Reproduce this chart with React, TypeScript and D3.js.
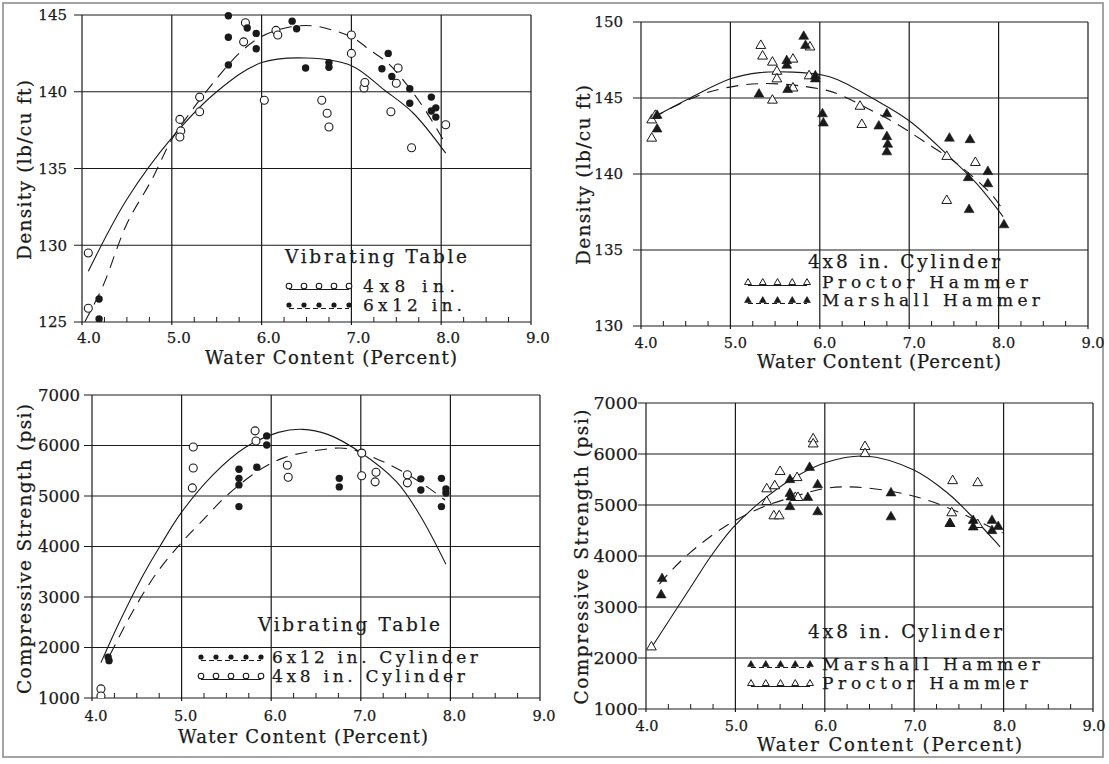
import React from 'react';
import * as d3 from 'd3';

type Pt = [number, number];

// ---------- tick values ----------
const waterTicks = [4, 5, 6, 7, 8, 9];
const waterTickLabels = ['4.0', '5.0', '6.0', '7.0', '8.0', '9.0'];
const densityTicksVT = [125, 130, 135, 140, 145];
const densityTicksHM = [130, 135, 140, 145, 150];
const strengthTicks = [1000, 2000, 3000, 4000, 5000, 6000, 7000];

// ---------- Panel A: density, vibrating table ----------
const densVT4x8: Pt[] = [
  [4.07, 129.5], [4.07, 125.9], [5.09, 138.2], [5.1, 137.45], [5.09, 137.05], [5.31, 139.65], [5.31, 138.7],
  [5.8, 143.25], [5.82, 144.5], [6.03, 139.45], [6.16, 144.0], [6.18, 143.7], [6.67, 139.45], [6.73, 138.6],
  [6.75, 137.7], [7.0, 143.7], [7.0, 142.5], [7.14, 140.25], [7.15, 140.6], [7.44, 138.7], [7.5, 140.55],
  [7.52, 141.55], [7.67, 136.35], [8.05, 137.85],
];
const densVT6x12: Pt[] = [
  [4.19, 126.5], [4.19, 125.2], [5.63, 144.95], [5.63, 143.55], [5.63, 141.75], [5.84, 144.15], [5.94, 143.8],
  [5.94, 142.8], [6.34, 144.6], [6.39, 144.1], [6.49, 141.55], [6.75, 141.9], [6.75, 141.6], [7.34, 141.5],
  [7.41, 142.5], [7.45, 141.0], [7.65, 140.2], [7.65, 139.25], [7.89, 139.65], [7.89, 138.75], [7.94, 138.95],
  [7.94, 138.35],
];
const densVT4x8Fit: Pt[] = [
  [4.07, 128.3], [4.5, 133.0], [5.0, 137.0], [5.5, 140.0], [6.0, 141.9], [6.5, 142.2], [7.0, 141.7],
  [7.37, 140.1], [7.69, 138.6], [8.05, 136.0],
];
const densVT6x12Fit: Pt[] = [
  [4.03, 125.0], [4.23, 127.3], [4.5, 131.4], [4.78, 134.3], [5.0, 136.9], [5.2, 138.6], [5.45, 140.5],
  [5.75, 142.5], [6.0, 143.6], [6.3, 144.2], [6.56, 144.3], [6.8, 144.0], [7.02, 143.5], [7.21, 142.7],
  [7.4, 141.9], [7.57, 140.8], [7.8, 139.0], [8.02, 136.9],
];

// ---------- Panel B: density, hammers ----------
const densHMProctor: Pt[] = [
  [4.12, 142.4], [4.12, 143.6], [4.16, 143.9], [5.34, 148.5], [5.36, 147.8], [5.47, 147.4], [5.52, 146.8],
  [5.52, 146.3], [5.47, 144.9], [5.7, 147.6], [5.7, 145.7], [5.89, 148.4], [5.88, 146.5], [6.45, 144.5],
  [6.47, 143.3], [7.42, 141.2], [7.42, 138.3], [7.74, 140.8],
];
const densHMMarshall: Pt[] = [
  [4.18, 143.9], [4.18, 143.0], [5.32, 145.3], [5.63, 147.5], [5.63, 147.2], [5.64, 145.6], [5.82, 149.1],
  [5.84, 148.5], [5.95, 146.5], [5.95, 146.3], [6.03, 144.0], [6.04, 143.4], [6.66, 143.2], [6.75, 144.0],
  [6.75, 142.5], [6.76, 142.0], [6.75, 141.5], [7.45, 142.4], [7.68, 142.3], [7.66, 139.8], [7.67, 137.7],
  [7.88, 140.2], [7.88, 139.4], [8.06, 136.7],
];
const densHMProctorFit: Pt[] = [
  [4.13, 143.7], [4.55, 145.0], [5.0, 146.26], [5.33, 146.67], [5.7, 146.7], [6.04, 146.5], [6.2, 146.2],
  [6.6, 144.95], [7.0, 143.5], [7.42, 141.3], [7.75, 139.4], [8.05, 137.2],
];
const densHMMarshallFit: Pt[] = [
  [4.13, 143.7], [4.66, 145.2], [5.07, 145.8], [5.41, 145.95], [5.78, 145.8], [6.08, 145.5], [6.23, 145.2],
  [6.54, 144.3], [6.86, 143.3], [7.15, 142.2], [7.53, 140.7], [7.93, 138.6], [8.05, 137.6],
];

// ---------- Panel C: strength, vibrating table ----------
const strVT4x8: Pt[] = [
  [4.1, 1180], [4.1, 1040], [5.13, 5970], [5.13, 5555], [5.12, 5160], [5.82, 6290], [5.83, 6090], [6.18, 5610],
  [6.19, 5370], [7.01, 5850], [7.01, 5400], [7.17, 5470], [7.16, 5280], [7.52, 5420], [7.52, 5260],
];
const strVT6x12: Pt[] = [
  [4.18, 1810], [4.19, 1740], [5.64, 5530], [5.64, 5350], [5.64, 5220], [5.64, 4790], [5.84, 5570],
  [5.95, 6190], [5.95, 6010], [6.76, 5350], [6.76, 5180], [7.67, 5340], [7.67, 5120], [7.9, 5350],
  [7.95, 5140], [7.95, 5060], [7.9, 4790],
];
const strVT4x8Fit: Pt[] = [
  [4.1, 1700], [4.3, 2480], [4.57, 3430], [4.76, 4010], [5.0, 4680], [5.35, 5420], [5.71, 5960], [6.08, 6260],
  [6.35, 6320], [6.63, 6220], [6.99, 5870], [7.4, 5280], [7.66, 4620], [7.95, 3650],
];
const strVT6x12Fit: Pt[] = [
  [4.2, 1850], [4.45, 2700], [4.72, 3470], [5.0, 4080], [5.2, 4450], [5.5, 5000], [5.84, 5480], [6.13, 5750],
  [6.5, 5900], [6.85, 5940], [7.21, 5710], [7.47, 5480], [7.74, 5180], [7.94, 4920],
];

// ---------- Panel D: strength, hammers ----------
const strHMMarshall: Pt[] = [
  [4.18, 3570], [4.17, 3250], [5.61, 5510], [5.61, 5240], [5.62, 5170], [5.61, 4980], [5.83, 5750],
  [5.81, 5160], [5.92, 5410], [5.92, 4880], [6.74, 5250], [6.74, 4780], [7.4, 4650], [7.66, 4710],
  [7.66, 4580], [7.87, 4710], [7.94, 4590], [7.87, 4510],
];
const strHMProctor: Pt[] = [
  [4.06, 2230], [5.35, 5330], [5.44, 5390], [5.5, 5670], [5.35, 5080], [5.43, 4800], [5.49, 4800],
  [5.69, 5550], [5.67, 5160], [5.7, 5160], [5.87, 6310], [5.87, 6210], [6.45, 6160], [6.45, 6020],
  [7.43, 5490], [7.71, 5450], [7.42, 4860], [7.4, 4650], [7.71, 4630],
];
const strHMProctorFit: Pt[] = [
  [4.06, 2200], [4.53, 3470], [4.72, 3980], [4.97, 4550], [5.28, 5060], [5.65, 5530], [6.02, 5840],
  [6.45, 5960], [6.99, 5690], [7.37, 5240], [7.66, 4750], [7.92, 4260], [7.96, 4180],
];
const strHMMarshallFit: Pt[] = [
  [4.15, 3450], [4.27, 3690], [4.49, 4060], [4.86, 4550], [5.28, 4940], [5.65, 5160], [6.02, 5330],
  [6.36, 5350], [6.8, 5250], [7.14, 5100], [7.51, 4850], [7.85, 4570], [7.99, 4450],
];

type Marker = 'openCircle' | 'filledCircle' | 'openTri' | 'filledTri';

interface LegendRow { marker: Marker; dashed: boolean; label: string; y: number; mx0: number; mx1: number; lx: number; lw: number }
interface PanelCfg {
  x0: number; x1: number; y0: number; y1: number;
  yDomain: [number, number]; yTicks: number[]; yFont: number; yLabelGap: number;
  xLabelY: number; xFont: number; xLabelShift: number;
  xTitle: { x: number; y: number; w: number };
  yTitle: { text: string; x: number; y: number; w: number };
  series: { data: Pt[]; marker: Marker }[];
  fits: { data: Pt[]; dashed: boolean }[];
  legendTitle: { text: string; x: number; y: number; w: number };
  legendRows: LegendRow[];
}

const FONT = '"DejaVu Serif", "Liberation Serif", serif';
const INK = '#1a1a1a';
const TXT = { fill: INK, stroke: INK, strokeWidth: 0.25 };

function MarkerShape({ type, x, y, s = 1 }: { type: Marker; x: number; y: number; s?: number }) {
  if (type === 'openCircle') return <circle cx={x} cy={y} r={4 * s} fill="white" stroke={INK} strokeWidth={1.1} />;
  if (type === 'filledCircle') return <circle cx={x} cy={y} r={3.7 * s} fill={INK} />;
  const p = d3.symbol().type(d3.symbolTriangle).size(42 * s * s)()!;
  const filled = type === 'filledTri';
  return <path d={p} transform={`translate(${x},${y + 0.8 * s})`} fill={filled ? INK : 'white'} stroke={INK} strokeWidth={filled ? 0.6 : 1} />;
}

function Panel({ c }: { c: PanelCfg }) {
  const x = d3.scaleLinear().domain([4, 9]).range([c.x0, c.x1]);
  const y = d3.scaleLinear().domain(c.yDomain).range([c.y1, c.y0]);
  const line = d3.line<Pt>().x(d => x(d[0])).y(d => y(d[1])).curve(d3.curveCatmullRom.alpha(0.5));
  const minor = d3.range(4, 9.001, 0.25).filter(v => Math.abs(v - Math.round(v)) > 0.01);
  const clipId = `clip${c.x0}${c.y0}`;
  return (
    <g>
      <defs>
        <clipPath id={clipId}>
          <rect x={c.x0} y={c.y0 - 6} width={c.x1 - c.x0 + 6} height={c.y1 - c.y0 + 6} />
        </clipPath>
      </defs>
      {/* grid */}
      {waterTicks.map(t => (
        <line key={'vx' + t} x1={x(t)} x2={x(t)} y1={c.y0} y2={c.y1 + 3} stroke={INK} strokeWidth={1.2} />
      ))}
      {c.yTicks.map(t => (
        <line key={'hy' + t} x1={c.x0 - 8} x2={c.x1} y1={y(t)} y2={y(t)} stroke={INK} strokeWidth={1.2} />
      ))}
      {minor.map(t => (
        <line key={'mx' + t} x1={x(t)} x2={x(t)} y1={c.y1} y2={c.y1 - 5} stroke={INK} strokeWidth={1} />
      ))}
      {/* tick labels */}
      {c.yTicks.map(t => (
        <text key={'yl' + t} x={c.x0 - c.yLabelGap} y={y(t)} dy="0.35em" textAnchor="end"
          fontFamily={FONT} fontSize={c.yFont} {...TXT}>{t}</text>
      ))}
      {waterTicks.map((t, i) => (
        <text key={'xl' + t} x={x(t) + c.xLabelShift} y={c.xLabelY} dy="0.35em" textAnchor="middle"
          fontFamily={FONT} fontSize={c.xFont} {...TXT}>{waterTickLabels[i]}</text>
      ))}
      {/* titles */}
      <text x={c.xTitle.x} y={c.xTitle.y} dy="0.35em" fontFamily={FONT} fontSize={18} {...TXT}
        textLength={c.xTitle.w} lengthAdjust="spacing">Water Content (Percent)</text>
      <text transform={`translate(${c.yTitle.x},${c.yTitle.y}) rotate(-90)`} textAnchor="middle" dy="0.35em"
        fontFamily={FONT} fontSize={18.5} {...TXT} textLength={c.yTitle.w} lengthAdjust="spacing">{c.yTitle.text}</text>
      {/* fits */}
      <g clipPath={`url(#${clipId})`}>
        {c.fits.map((f, i) => (
          <path key={'f' + i} d={line(f.data)!} fill="none" stroke={INK} strokeWidth={1.1}
            strokeDasharray={f.dashed ? '12 8' : undefined} />
        ))}
        {c.series.map((s, i) => (
          <g key={'s' + i}>
            {s.data.map((d, j) => <MarkerShape key={j} type={s.marker} x={x(d[0])} y={y(d[1])} />)}
          </g>
        ))}
      </g>
      {/* legend */}
      <text x={c.legendTitle.x} y={c.legendTitle.y} dy="0.35em" fontFamily={FONT} fontSize={18.5} {...TXT}
        textLength={c.legendTitle.w} lengthAdjust="spacing">{c.legendTitle.text}</text>
      {c.legendRows.map((r, i) => {
        const xs = d3.range(5).map(k => r.mx0 + (k * (r.mx1 - r.mx0)) / 4);
        return (
          <g key={'lr' + i}>
            <line x1={r.mx0} x2={r.mx1} y1={r.y + 3.5} y2={r.y + 3.5} stroke={INK} strokeWidth={1}
              strokeDasharray={r.dashed ? '5 3' : undefined} />
            {xs.map((mx, k) => <MarkerShape key={k} type={r.marker} x={mx} y={r.y} s={0.7} />)}
            <text x={r.lx} y={r.y} dy="0.35em" fontFamily={FONT} fontSize={17} {...TXT}
              textLength={r.lw} lengthAdjust="spacing">{r.label}</text>
          </g>
        );
      })}
    </g>
  );
}

const panels: PanelCfg[] = [
  {
    x0: 82, x1: 531, y0: 15, y1: 322, yDomain: [125, 145], yTicks: densityTicksVT, yFont: 15, yLabelGap: 15,
    xLabelY: 338, xFont: 15, xLabelShift: 7,
    xTitle: { x: 205, y: 358, w: 252 },
    yTitle: { text: 'Density (lb/cu ft)', x: 25, y: 170, w: 180 },
    series: [{ data: densVT4x8, marker: 'openCircle' }, { data: densVT6x12, marker: 'filledCircle' }],
    fits: [{ data: densVT4x8Fit, dashed: false }, { data: densVT6x12Fit, dashed: true }],
    legendTitle: { text: 'Vibrating Table', x: 285, y: 257, w: 182 },
    legendRows: [
      { marker: 'openCircle', dashed: false, label: '4x8  in.', y: 286, mx0: 289, mx1: 349, lx: 363, lw: 92 },
      { marker: 'filledCircle', dashed: true, label: '6x12  in.', y: 305, mx0: 289, mx1: 349, lx: 363, lw: 99 },
    ],
  },
  {
    x0: 641, x1: 1088, y0: 22, y1: 326, yDomain: [130, 150], yTicks: densityTicksHM, yFont: 15, yLabelGap: 18,
    xLabelY: 343, xFont: 14.5, xLabelShift: 5,
    xTitle: { x: 757, y: 362, w: 244 },
    yTitle: { text: 'Density (lb/cu ft)', x: 584, y: 175, w: 180 },
    series: [{ data: densHMProctor, marker: 'openTri' }, { data: densHMMarshall, marker: 'filledTri' }],
    fits: [{ data: densHMProctorFit, dashed: false }, { data: densHMMarshallFit, dashed: true }],
    legendTitle: { text: '4x8  in. Cylinder', x: 808, y: 262, w: 192 },
    legendRows: [
      { marker: 'openTri', dashed: false, label: 'Proctor Hammer', y: 282, mx0: 748, mx1: 807, lx: 822, lw: 206 },
      { marker: 'filledTri', dashed: true, label: 'Marshall Hammer', y: 300, mx0: 748, mx1: 807, lx: 822, lw: 218 },
    ],
  },
  {
    x0: 92, x1: 540, y0: 395, y1: 698, yDomain: [1000, 7000], yTicks: strengthTicks, yFont: 16.5, yLabelGap: 12,
    xLabelY: 716, xFont: 14.5, xLabelShift: 4,
    xTitle: { x: 178, y: 737, w: 250 },
    yTitle: { text: 'Compressive Strength (psi)', x: 25, y: 549, w: 290 },
    series: [{ data: strVT4x8, marker: 'openCircle' }, { data: strVT6x12, marker: 'filledCircle' }],
    fits: [{ data: strVT4x8Fit, dashed: false }, { data: strVT6x12Fit, dashed: true }],
    legendTitle: { text: 'Vibrating Table', x: 258, y: 625, w: 182 },
    legendRows: [
      { marker: 'filledCircle', dashed: true, label: '6x12  in. Cylinder', y: 657, mx0: 201, mx1: 261, lx: 272, lw: 206 },
      { marker: 'openCircle', dashed: false, label: '4x8  in. Cylinder', y: 676, mx0: 201, mx1: 261, lx: 272, lw: 193 },
    ],
  },
  {
    x0: 646, x1: 1093, y0: 403, y1: 709, yDomain: [1000, 7000], yTicks: strengthTicks, yFont: 17.5, yLabelGap: 8,
    xLabelY: 726, xFont: 14.5, xLabelShift: 1,
    xTitle: { x: 757, y: 745, w: 265 },
    yTitle: { text: 'Compressive Strength (psi)', x: 582, y: 557, w: 295 },
    series: [{ data: strHMProctor, marker: 'openTri' }, { data: strHMMarshall, marker: 'filledTri' }],
    fits: [{ data: strHMProctorFit, dashed: false }, { data: strHMMarshallFit, dashed: true }],
    legendTitle: { text: '4x8  in. Cylinder', x: 808, y: 632, w: 194 },
    legendRows: [
      { marker: 'filledTri', dashed: true, label: 'Marshall Hammer', y: 664, mx0: 751, mx1: 810, lx: 822, lw: 218 },
      { marker: 'openTri', dashed: false, label: 'Proctor Hammer', y: 683, mx0: 751, mx1: 810, lx: 822, lw: 206 },
    ],
  },
];

export default function App() {
  return (
    <svg width={1109} height={764} style={{ position: 'absolute', left: 0, top: 0, background: 'white' }}>
      <rect x={0} y={0} width={1109} height={764} fill="white" />
      <rect x={3} y={3} width={1100} height={754} fill="none" stroke="#8c8c8c" strokeWidth={1.6} />
      {panels.map((p, i) => <Panel key={i} c={p} />)}
    </svg>
  );
}
